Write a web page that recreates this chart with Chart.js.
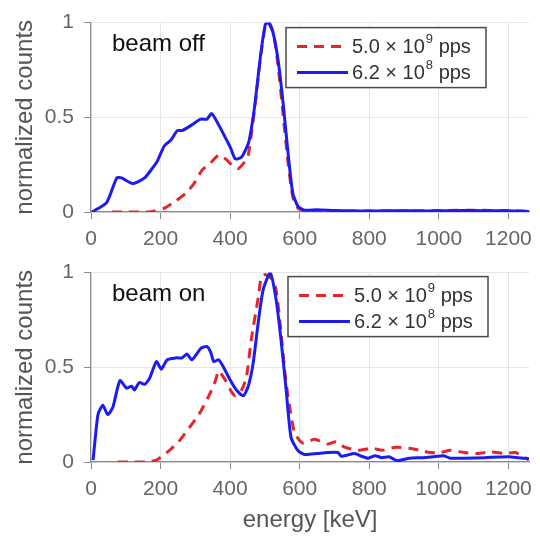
<!DOCTYPE html>
<html>
<head>
<meta charset="utf-8">
<script src="https://cdn.jsdelivr.net/npm/chart.js@4.4.1/dist/chart.umd.min.js"></script>
<style>
  html, body { margin: 0; padding: 0; background: #fff; }
  canvas { display: block; }
</style>
</head>
<body>
<canvas id="beamOff" width="540" height="250"></canvas>
<canvas id="beamOn" width="540" height="286"></canvas>
<script>
// x axis ticks
const energyTicks = [0, 200, 400, 600, 800, 1000, 1200];
const countTicks = [0, 0.5, 1];

// legend labels: [base, superscript, tail]
const highLabel = ['5.0 \u00d7 10', '9', ' pps'];
const lowLabel = ['6.2 \u00d7 10', '8', ' pps'];

// beam off, 5.0e9 pps (red dashed)
const offHighEnergy = [60, 90, 130, 168, 211, 245, 273, 296, 319, 344, 367, 387, 404, 424, 444, 452, 461, 472, 487, 501, 512, 525, 538, 552, 566, 580, 595, 614, 700, 800, 900, 1000, 1100, 1200, 1260];
const offHigh = [0, 0, 0, 0, 0.02, 0.06, 0.10, 0.15, 0.22, 0.26, 0.30, 0.28, 0.25, 0.23, 0.27, 0.30, 0.41, 0.57, 0.81, 0.98, 1.0, 0.94, 0.77, 0.52, 0.27, 0.08, 0.02, 0.005, 0.004, 0.005, 0.006, 0.008, 0.009, 0.007, 0.004];

// beam off, 6.2e8 pps (blue)
const offLowEnergy = [3, 45, 74, 88, 120, 154, 176, 191, 211, 230, 248, 262, 290, 315, 333, 347, 367, 387, 401, 415, 433, 452, 461, 472, 487, 501, 510, 523, 538, 552, 566, 580, 595, 614, 650, 700, 750, 800, 850, 900, 950, 1000, 1050, 1100, 1150, 1200, 1260];
const offLow = [0, 0.05, 0.18, 0.18, 0.15, 0.18, 0.23, 0.27, 0.35, 0.38, 0.43, 0.43, 0.46, 0.49, 0.49, 0.52, 0.46, 0.39, 0.34, 0.28, 0.29, 0.36, 0.44, 0.58, 0.82, 0.99, 1.0, 0.95, 0.80, 0.58, 0.32, 0.10, 0.03, 0.01, 0.012, 0.008, 0.006, 0.005, 0.006, 0.007, 0.005, 0.006, 0.007, 0.008, 0.006, 0.007, 0.003];

// beam on, 5.0e9 pps (red dashed)
const onHighEnergy = [77, 111, 159, 188, 225, 253, 282, 310, 339, 358, 367, 387, 404, 415, 433, 447, 461, 481, 489, 501, 518, 532, 546, 560, 572, 586, 609, 643, 680, 705, 729, 768, 808, 837, 876, 915, 945, 974, 1004, 1033, 1073, 1112, 1151, 1190, 1220, 1259];
const onHigh = [0, 0, 0, 0.01, 0.06, 0.11, 0.18, 0.25, 0.35, 0.43, 0.48, 0.43, 0.37, 0.35, 0.38, 0.45, 0.65, 0.87, 0.97, 0.99, 0.97, 0.91, 0.69, 0.43, 0.28, 0.15, 0.10, 0.12, 0.095, 0.107, 0.078, 0.062, 0.073, 0.062, 0.078, 0.073, 0.062, 0.05, 0.05, 0.062, 0.05, 0.045, 0.053, 0.045, 0.05, 0.012];

// beam on, 6.2e8 pps (blue)
const onLowEnergy = [6, 20, 34, 48, 63, 83, 102, 117, 125, 139, 154, 168, 188, 202, 219, 245, 262, 276, 290, 316, 333, 344, 353, 367, 381, 401, 418, 438, 452, 466, 481, 495, 515, 532, 546, 560, 575, 595, 614, 650, 680, 710, 720, 758, 778, 797, 817, 836, 856, 881, 915, 955, 984, 1014, 1033, 1073, 1132, 1200, 1259];
const onLow = [0.01, 0.25, 0.30, 0.25, 0.29, 0.43, 0.39, 0.40, 0.38, 0.42, 0.41, 0.44, 0.53, 0.49, 0.54, 0.55, 0.55, 0.57, 0.54, 0.60, 0.61, 0.58, 0.53, 0.54, 0.50, 0.43, 0.38, 0.35, 0.40, 0.52, 0.74, 0.91, 1.0, 0.86, 0.65, 0.40, 0.13, 0.06, 0.04, 0.045, 0.05, 0.05, 0.03, 0.045, 0.03, 0.02, 0.033, 0.023, 0.028, 0.007, 0.02, 0.023, 0.028, 0.033, 0.02, 0.02, 0.023, 0.028, 0.017];

const FONT = "'Liberation Sans', Arial, Helvetica, sans-serif";
const RED = '#e3262c';
const BLUE = '#1c1cf2';
const AXIS_COLOR = '#8a8a8a';
const GRID_COLOR = '#e6e6e6';
const TICK_COLOR = '#666';

function toPoints(xs, ys) {
    return xs.map((x, i) => ({ x: x, y: ys[i] }));
}

// draws the boxed legend with superscripts and the panel caption
const panelDecor = {
    id: 'panelDecor',
    afterDatasetsDraw(chart, args, opts) {
        const { ctx, chartArea } = chart;
        ctx.save();
        // caption
        ctx.fillStyle = '#111';
        ctx.font = `24px ${FONT}`;
        ctx.textBaseline = 'alphabetic';
        ctx.fillText(opts.caption, chartArea.left + 21, chartArea.top + 28);

        // legend box
        const bx = chartArea.left + opts.dx, by = chartArea.top + opts.dy;
        ctx.fillStyle = '#fff';
        ctx.fillRect(bx, by, 200, 60);
        ctx.strokeStyle = '#4a4a4a';
        ctx.lineWidth = 1.5;
        ctx.strokeRect(bx, by, 200, 60);

        const rows = [chart.data.datasets[1], chart.data.datasets[0]];
        rows.forEach((ds, i) => {
            const ry = by + 19 + i * 26;
            ctx.strokeStyle = ds.borderColor;
            ctx.lineWidth = ds.borderWidth;
            ctx.setLineDash(ds.borderDash || []);
            ctx.beginPath();
            ctx.moveTo(bx + 11, ry);
            ctx.lineTo(bx + 62, ry);
            ctx.stroke();
            ctx.setLineDash([]);

            const parts = ds.legendParts;
            let tx = bx + 66;
            ctx.fillStyle = '#333';
            ctx.textBaseline = 'middle';
            ctx.font = `20px ${FONT}`;
            ctx.fillText(parts[0], tx, ry + 1);
            tx += ctx.measureText(parts[0]).width + 1;
            ctx.font = `13px ${FONT}`;
            ctx.fillText(parts[1], tx, ry - 7);
            tx += ctx.measureText(parts[1]).width;
            ctx.font = `20px ${FONT}`;
            ctx.fillText(parts[2], tx, ry + 1);
        });
        ctx.restore();
    }
};

function makePanel(canvasId, caption, highData, lowData, padTop, xHeight, showXTitle, legendDx, legendDy) {
    return new Chart(document.getElementById(canvasId), {
        type: 'line',
        data: {
            datasets: [
                {
                    label: lowLabel.join(''),
                    legendParts: lowLabel,
                    data: lowData,
                    borderColor: BLUE,
                    borderWidth: 3,
                    pointRadius: 0,
                    tension: 0.2,
                    order: 0
                },
                {
                    label: highLabel.join(''),
                    legendParts: highLabel,
                    data: highData,
                    borderColor: RED,
                    borderWidth: 3,
                    borderDash: [10, 7],
                    pointRadius: 0,
                    tension: 0.2,
                    order: 1
                }
            ]
        },
        options: {
            responsive: false,
            animation: false,
            layout: { padding: { top: padTop, right: 5, left: 0, bottom: 0 } },
            plugins: {
                legend: { display: false },
                tooltip: { enabled: false },
                panelDecor: { caption: caption, dx: legendDx, dy: legendDy }
            },
            scales: {
                x: {
                    type: 'linear',
                    min: 0,
                    max: 1260,
                    afterBuildTicks: s => { s.ticks = energyTicks.map(v => ({ value: v })); },
                    afterFit: s => { s.height = xHeight; },
                    ticks: {
                        color: TICK_COLOR,
                        font: { size: 21, family: FONT },
                        padding: 8,
                        maxRotation: 0,
                        autoSkip: false,
                        callback: v => String(v)
                    },
                    grid: { color: GRID_COLOR, tickColor: AXIS_COLOR, tickLength: 7 },
                    border: { color: AXIS_COLOR, width: 1.2 },
                    title: {
                        display: showXTitle,
                        text: 'energy [keV]',
                        color: '#555',
                        font: { size: 24, family: FONT },
                        padding: { top: 0, bottom: 1 }
                    }
                },
                y: {
                    min: 0,
                    max: 1,
                    afterBuildTicks: s => { s.ticks = countTicks.map(v => ({ value: v })); },
                    afterFit: s => { s.width = 91; },
                    ticks: {
                        color: TICK_COLOR,
                        font: { size: 21, family: FONT },
                        padding: 10,
                        callback: v => String(v)
                    },
                    grid: { color: GRID_COLOR, tickColor: AXIS_COLOR, tickLength: 7 },
                    border: { color: AXIS_COLOR, width: 1.2 },
                    title: {
                        display: true,
                        text: 'normalized counts',
                        color: '#555',
                        font: { size: 24, family: FONT },
                        padding: { top: 11, bottom: 0 }
                    }
                }
            }
        },
        plugins: [panelDecor]
    });
}

makePanel('beamOff', 'beam off', toPoints(offHighEnergy, offHigh), toPoints(offLowEnergy, offLow), 18, 38, false, 195, 5);
makePanel('beamOn', 'beam on', toPoints(onHighEnergy, onHigh), toPoints(onLowEnergy, onLow), 15, 74, true, 197, 4);
</script>
</body>
</html>
